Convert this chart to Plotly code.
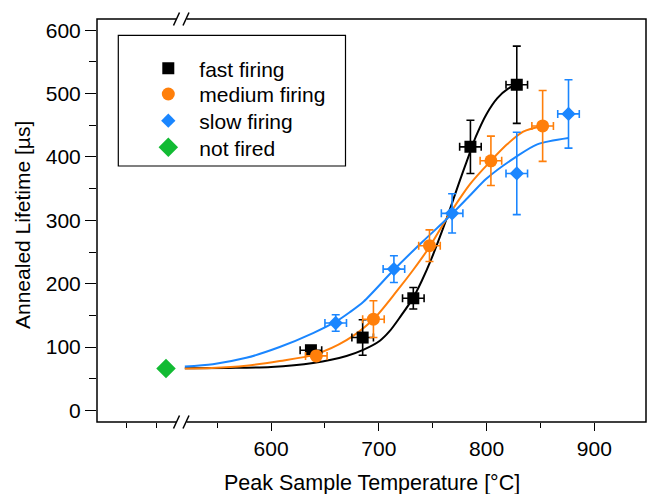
import plotly.graph_objects as go

# ---------------- data ----------------
fast_T = [637, 685, 732, 785, 828]
fast_L = [95, 115, 177, 416, 514]
fast_Lerr = [6, 28, 17, 42, 61]

medium_T = [642, 695, 747, 804, 852]
medium_L = [86, 144, 260, 394, 449]
medium_Lerr = [7, 29, 25, 39, 56]

slow_T = [660, 714, 768, 828, 876]
slow_L = [138, 223, 311, 374, 468]
slow_Lerr = [13, 21, 31, 65, 54]

T_err = [10, 10, 10, 10, 10]

notfired_x = [0]
notfired_L = [66]

# fitted curves
fast_fit_T = [520, 560, 600, 639, 670, 686, 701, 710, 720, 732, 740, 748, 763, 775, 782, 790, 800, 810, 820, 828]
fast_fit_L = [66.5, 67, 68.5, 75, 86, 96, 110, 125, 148, 178, 205, 236, 303, 362, 395, 432, 468, 493, 508, 514]

medium_fit_T = [520, 545, 577, 608, 640, 670, 695, 717, 732, 747, 763, 785, 804, 819, 834, 852]
medium_fit_L = [66, 66.8, 70.5, 78, 88, 111, 144, 189, 222, 258, 303, 358, 394, 420, 440, 449]

slow_fit_T = [520, 546, 577, 608, 639, 660, 673, 686, 714, 741, 763, 785, 800, 828, 847, 876]
slow_fit_L = [69.4, 73, 83, 100, 122, 140, 155, 172, 222, 267, 302, 340, 366, 401, 420, 430]

x_ticks = [600, 700, 800, 900]
y_ticks = [0, 100, 200, 300, 400, 500, 600]

BLACK = "#000000"
ORANGE = "#FF7F0A"
BLUE = "#1A86FF"
GREEN = "#12BB33"
FONT = "Liberation Sans, Arial, sans-serif"

# ---------------- layout geometry ----------------
W, H = 648, 494
ML, MR, MT, MB = 97, 2, 19, 72
PW = W - ML - MR
PH = H - MT - MB
BREAK_PX = 181.7
split = (BREAK_PX - ML) / PW
LEG_FS = 21


def px(xp):
    return (xp - ML) / PW


def py(yp):
    return (H - MB - yp) / PH


fig = go.Figure()

# curves first (under markers)
for T, L, c in [(fast_fit_T, fast_fit_L, BLACK),
                (medium_fit_T, medium_fit_L, ORANGE),
                (slow_fit_T, slow_fit_L, BLUE)]:
    fig.add_trace(go.Scatter(x=T, y=L, mode="lines", xaxis="x2", yaxis="y",
                             line=dict(color=c, width=2, shape="spline", smoothing=0.8),
                             showlegend=False, hoverinfo="skip"))


def err(arr, c):
    return dict(type="data", array=arr, symmetric=True, color=c, thickness=1.6, width=4)


fig.add_trace(go.Scatter(x=fast_T, y=fast_L, mode="markers", name="fast firing",
                         xaxis="x2", yaxis="y", legend="legend",
                         marker=dict(symbol="square", size=12, color=BLACK),
                         error_x=err(T_err, BLACK), error_y=err(fast_Lerr, BLACK)))
fig.add_trace(go.Scatter(x=medium_T, y=medium_L, mode="markers", name="medium firing",
                         xaxis="x2", yaxis="y", legend="legend2",
                         marker=dict(symbol="circle", size=13, color=ORANGE),
                         error_x=err(T_err, ORANGE), error_y=err(medium_Lerr, ORANGE)))
fig.add_trace(go.Scatter(x=slow_T, y=slow_L, mode="markers", name="slow firing",
                         xaxis="x2", yaxis="y", legend="legend3",
                         marker=dict(symbol="diamond", size=11, color=BLUE),
                         error_x=err(T_err, BLUE), error_y=err(slow_Lerr, BLUE)))
fig.add_trace(go.Scatter(x=notfired_x, y=notfired_L, mode="markers", name="not fired",
                         xaxis="x", yaxis="y", legend="legend4",
                         marker=dict(symbol="diamond", size=15, color=GREEN)))

tickfont = dict(family=FONT, size=21, color="black")

shapes = [
    # plot frame
    dict(type="rect", xref="paper", yref="paper", x0=0, y0=0, x1=1, y1=1,
         line=dict(color="black", width=1.5), layer="above"),
    # legend frame
    dict(type="rect", xref="paper", yref="paper", x0=px(118.3), x1=px(345.5),
         y0=py(166), y1=py(35.3), line=dict(color="black", width=1.2),
         fillcolor="rgba(0,0,0,0)", layer="above"),
]
# axis break marks (top and bottom)
for yline in (MT, H - MB):
    shapes.append(dict(type="rect", xref="paper", yref="paper",
                       x0=px(176.5), x1=px(186.5), y0=py(yline + 1.5), y1=py(yline - 1.5),
                       line=dict(width=0), fillcolor="white", layer="above"))
    for cx in (176.5, 186.0):
        shapes.append(dict(type="line", xref="paper", yref="paper",
                           x0=px(cx - 3), y0=py(yline + 6.5), x1=px(cx + 3), y1=py(yline - 6.5),
                           line=dict(color="black", width=1.5), layer="above"))

# one legend per row so that row spacing matches the original
row_centers = [68.3, 94.0, 120.7, 147.3]
item_half = 5 + (1.3 * LEG_FS + 3) / 2


def legend_at(yc):
    return dict(x=px(168.3 - 31), y=py(yc - item_half), xanchor="left", yanchor="top",
                bgcolor="rgba(0,0,0,0)", borderwidth=0, itemwidth=52,
                font=dict(family=FONT, size=LEG_FS, color="black"))


fig.update_layout(
    width=W, height=H,
    margin=dict(l=ML, r=MR, t=MT, b=MB, pad=0),
    paper_bgcolor="white", plot_bgcolor="white",
    font=dict(family=FONT, size=21, color="black"),
    xaxis=dict(domain=[0, split], range=[-2.347, 0.534], anchor="y",
               showgrid=False, zeroline=False, showline=False,
               tickmode="array", tickvals=[-1.337, -0.316], ticktext=["", ""],
               ticks="outside", ticklen=5, tickwidth=1.2, tickcolor="black"),
    xaxis2=dict(domain=[split, 1], range=[517.1, 947.9], anchor="y",
                showgrid=False, zeroline=False, showline=False,
                tickmode="array", tickvals=x_ticks,
                ticks="outside", ticklen=8, tickwidth=1.2, tickcolor="black",
                tickfont=tickfont,
                minor=dict(dtick=50, tick0=0, ticks="outside", ticklen=5,
                           tickwidth=1.2, tickcolor="black")),
    yaxis=dict(range=[-18.3, 617.8], anchor="x",
               showgrid=False, zeroline=False, showline=False,
               tickmode="array", tickvals=y_ticks,
               ticks="outside", ticklen=11, tickwidth=1.2, tickcolor="black",
               tickfont=tickfont,
               minor=dict(dtick=50, tick0=0, ticks="outside", ticklen=7,
                          tickwidth=1.2, tickcolor="black")),
    legend=legend_at(row_centers[0]),
    legend2=legend_at(row_centers[1]),
    legend3=legend_at(row_centers[2]),
    legend4=legend_at(row_centers[3]),
    shapes=shapes,
    annotations=[
        dict(text="Peak Sample Temperature [°C]", xref="paper", yref="paper",
             x=px(372.3), y=py(482.7), xanchor="center", yanchor="middle",
             showarrow=False, font=dict(family=FONT, size=21.5, color="black")),
        dict(text="Annealed Lifetime [µs]", xref="paper", yref="paper",
             x=px(23), y=py(225), xanchor="center", yanchor="middle", textangle=-90,
             showarrow=False, font=dict(family=FONT, size=21, color="black")),
    ],
)

fig.write_html("out.html")
